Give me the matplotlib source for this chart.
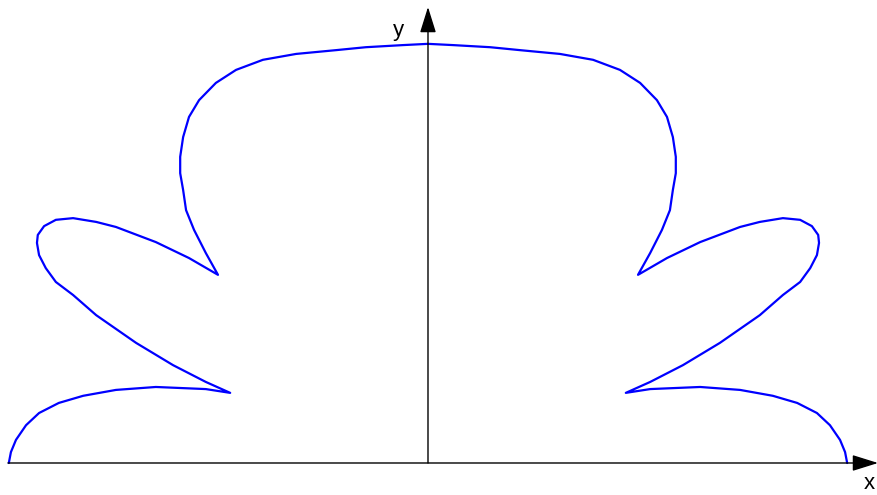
import matplotlib
matplotlib.use("Agg")
import matplotlib.pyplot as plt
import numpy as np

# Right half of the curve, from the top (x=0) down to the x axis
half_x = [0.000, 0.060, 0.148, 0.219, 0.314, 0.393, 0.457, 0.505, 0.545, 0.569,
          0.583, 0.590, 0.590, 0.583, 0.576, 0.557, 0.529, 0.500,
          0.569, 0.648, 0.743, 0.790, 0.845, 0.886, 0.914, 0.929, 0.931, 0.926,
          0.910, 0.886, 0.845, 0.790, 0.695, 0.607, 0.529, 0.471,
          0.529, 0.648, 0.743, 0.821, 0.879, 0.926, 0.957, 0.981, 0.993, 0.998]
half_y = [0.998, 0.995, 0.990, 0.983, 0.974, 0.960, 0.936, 0.905, 0.864, 0.824,
          0.776, 0.729, 0.690, 0.650, 0.602, 0.555, 0.500, 0.448,
          0.488, 0.526, 0.562, 0.574, 0.583, 0.579, 0.564, 0.543, 0.524, 0.495,
          0.464, 0.431, 0.400, 0.352, 0.286, 0.233, 0.193, 0.167,
          0.176, 0.181, 0.174, 0.160, 0.143, 0.119, 0.090, 0.055, 0.026, 0.000]

hx = np.array(half_x)
hy = np.array(half_y)
curve_x = np.concatenate([hx[::-1], -hx[1:]])
curve_y = np.concatenate([hy[::-1], hy[1:]])

fig = plt.figure(figsize=(8.78, 4.95), dpi=100)
ax = fig.add_axes([0, 0, 1, 1])
ax.set_xlim(-1.019, 1.0714)
ax.set_ylim(-0.0762, 1.1024)
ax.axis("off")

# axes with arrows
ax.annotate("", xy=(1.0714, 0), xytext=(-1.0, 0),
            arrowprops=dict(arrowstyle="-|>,head_length=16,head_width=5",
                            color="black", lw=1, mutation_scale=1,
                            shrinkA=0, shrinkB=0))
ax.annotate("", xy=(0, 1.0857), xytext=(0, 0),
            arrowprops=dict(arrowstyle="-|>,head_length=16,head_width=5",
                            color="black", lw=1, mutation_scale=1,
                            shrinkA=0, shrinkB=0))

ax.plot(curve_x, curve_y, color="#0000ff", lw=1.6,
        solid_joinstyle="round", solid_capstyle="round")

ax.text(1.050, -0.049, "x", fontsize=16, family="Liberation Sans",
        ha="center", va="center")
ax.text(-0.070, 1.029, "y", fontsize=16, family="Liberation Sans",
        ha="center", va="center")

fig.savefig("out.png", dpi=100)
